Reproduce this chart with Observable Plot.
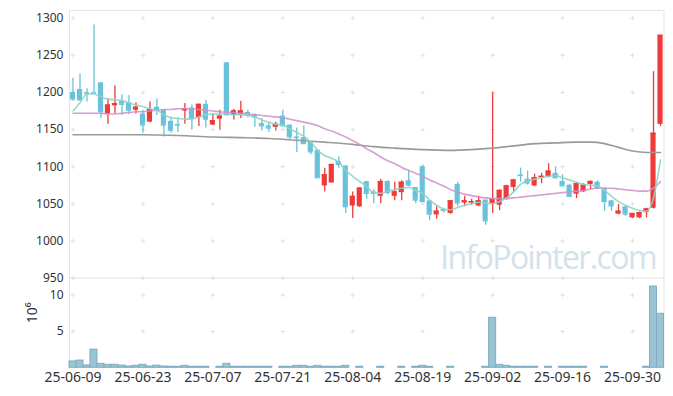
<!DOCTYPE html>
<html><head><meta charset="utf-8">
<script src="https://cdn.jsdelivr.net/npm/d3@7"></script>
<script src="https://cdn.jsdelivr.net/npm/@observablehq/plot@0.6"></script>
<style>
body{margin:0;background:#fff;}
#chart{position:relative;width:673px;height:396px;}
#chart svg{position:absolute;left:0;overflow:visible;}
</style></head><body><div id="chart"></div>
<script>
const dates = ["25-06-09","25-06-10","25-06-11","25-06-12","25-06-13","25-06-16","25-06-17","25-06-18","25-06-19","25-06-20",
"25-06-23","25-06-24","25-06-25","25-06-26","25-06-27","25-06-30","25-07-01","25-07-02","25-07-03","25-07-04",
"25-07-07","25-07-08","25-07-09","25-07-10","25-07-11","25-07-14","25-07-15","25-07-16","25-07-17","25-07-18",
"25-07-21","25-07-22","25-07-23","25-07-24","25-07-25","25-07-28","25-07-29","25-07-30","25-07-31","25-08-01",
"25-08-04","25-08-05","25-08-06","25-08-07","25-08-08","25-08-11","25-08-12","25-08-13","25-08-14","25-08-18",
"25-08-19","25-08-20","25-08-21","25-08-22","25-08-25","25-08-26","25-08-27","25-08-28","25-08-29","25-09-01",
"25-09-02","25-09-03","25-09-04","25-09-05","25-09-08","25-09-09","25-09-10","25-09-11","25-09-12","25-09-15",
"25-09-16","25-09-17","25-09-18","25-09-19","25-09-22","25-09-23","25-09-24","25-09-25","25-09-26","25-09-29",
"25-09-30","25-10-01","25-10-02","25-10-10","25-10-13"];

const open  = [1200,1204,1200,1200,1213,1171,1182,1188,1186,1176,1171,1160,1180,1176,1161,1157,1175,1179,1166,1184,
1156,1164,1240,1169,1170,1173,1170,1158,1155,1153,1168,1156,1140,1139,1133,1122,1074,1078,1107,1101,
1047,1046,1080,1066,1060,1080,1060,1065,1081,1072,1100,1054,1035,1042,1037,1076,1051,1051,1047,1055,
1050,1048,1056,1072,1089,1083,1074,1085,1086,1091,1080,1075,1063,1066,1076,1079,1071,1054,1036,1046,
1031,1031,1038,1044,1157];
const high  = [1219,1225,1205,1291,1213,1192,1209,1197,1196,1186,1176,1187,1191,1177,1167,1166,1185,1183,1184,1189,
1171,1176,1240,1177,1188,1176,1171,1165,1159,1160,1176,1156,1152,1155,1134,1122,1098,1103,1113,1101,
1066,1072,1080,1069,1083,1081,1079,1081,1095,1072,1102,1054,1046,1044,1054,1079,1060,1056,1060,1055,
1200,1069,1075,1083,1098,1094,1090,1091,1104,1100,1089,1076,1078,1077,1081,1081,1071,1054,1049,1046,
1037,1039,1044,1228,1277];
const low   = [1188,1188,1187,1199,1165,1157,1171,1169,1170,1171,1145,1159,1169,1140,1145,1146,1157,1149,1154,1152,
1155,1149,1168,1163,1165,1166,1153,1148,1146,1148,1155,1136,1119,1130,1116,1084,1066,1078,1098,1037,
1030,1045,1056,1050,1050,1062,1054,1054,1073,1050,1052,1027,1029,1038,1036,1046,1046,1048,1046,1021,
1037,1041,1055,1066,1079,1075,1073,1077,1085,1084,1074,1059,1057,1065,1069,1069,1040,1040,1035,1033,
1030,1030,1031,1043,1154];
const close = [1191,1190,1199,1199,1174,1183,1185,1184,1176,1180,1156,1177,1177,1156,1149,1156,1178,1165,1184,1164,
1162,1168,1170,1175,1175,1171,1167,1155,1152,1157,1155,1140,1139,1131,1120,1085,1089,1103,1103,1046,
1060,1071,1064,1064,1080,1065,1066,1079,1075,1055,1053,1036,1040,1041,1054,1051,1054,1053,1054,1027,
1056,1068,1074,1082,1088,1078,1085,1087,1094,1085,1074,1060,1077,1075,1080,1072,1053,1047,1040,1036,
1037,1038,1043,1145,1277];
// volume, millions of shares
const volume = [0.87,1.0,0.32,2.5,0.55,0.41,0.41,0.3,0.18,0.27,0.41,0.18,0.3,0.18,0.14,0.14,0.27,0.14,0.14,0.14,
0,0.14,0.55,0.14,0.14,0.14,0.14,0.14,0.14,0,0.14,0.14,0.27,0.27,0.14,0.27,0.14,0.14,0.14,0.27,
0,0.14,0,0,0.14,0,0,0.14,0,0.14,0.27,0.14,0,0,0.14,0,0,0,0,0.14,
6.89,0.41,0.27,0.14,0.14,0.14,0.14,0,0.14,0,0.14,0.14,0.14,0.14,0,0,0.14,0,0,0,
0,0,0.14,11.2,7.44];
// 5-day moving average (green)
const ma5 = [1175,1186,1198,1198,1194,1191,1190,1189,1186,1183,1181,1178,1176,1170,1166,1165,1164,1164,1167,1170,
1171,1171,1171,1170,1170,1169,1167,1163,1160,1157,1156,1151,1146,1141,1133,1122,1115,1111,1106,1095,
1087,1080,1073,1065,1064,1067,1069,1071,1072,1068,1064,1055,1048,1043,1042,1045,1048,1050,1052,1051,
1050,1053,1058,1066,1076,1081,1083,1085,1087,1088,1085,1082,1079,1076,1075,1074,1068,1060,1053,1048,
1044,1041,1040,1058,1109];
// 20-day moving average (pink)
const ma20 = [1172,1172,1172,1172,1172,1171,1171,1172,1173,1174,1174,1175,1176,1177,1177,1178,1178,1178,1177,1176,
1175,1174,1173,1173,1172,1171,1170,1169,1168,1167,1166,1164,1162,1160,1158,1155,1151,1148,1144,1140,
1135,1130,1124,1119,1113,1108,1104,1099,1095,1091,1087,1082,1078,1074,1069,1066,1063,1061,1059,1058,
1057,1057,1057,1058,1059,1060,1061,1062,1063,1064,1065,1066,1067,1068,1070,1071,1071,1071,1070,1069,
1068,1067,1067,1071,1080];
// long moving average (gray), read at these indices
const maLongIdx = [0,5,10,15,20,25,28,30,33,36,40,43,46,50,54,57,60,63,66,69,72,74,76,78,80,82,84];
const maLongVal = [1143,1143,1143,1142,1140,1139,1138,1137,1135,1133,1130,1127,1125,1123,1122,1123,1125,1128,1131,1132,1133,1133,1131,1126,1121,1119,1119];

const priceTicks = [950,1000,1050,1100,1150,1200,1250,1300];
const volTicks = [5,10];
const dateTickIdx = [0,10,20,30,40,50,60,70,80];

const UP = "#ef3a3a", DOWN = "#68c2da";
const n = dates.length;
const candles = d3.range(n).map(i => ({i, o: open[i], h: high[i], l: low[i], c: close[i], col: close[i] > open[i] ? UP : DOWN}));
const W = 673, L = 69, R = 9.5;
const xDomain = [-0.5, n - 0.5];
const font = {fontFamily: "'Noto Sans', sans-serif", fontSize: "12px", color: "#333", background: "transparent", overflow: "visible"};

const crossMain = dateTickIdx.flatMap(x => priceTicks.map(y => ({x, y})));
const crossVol = dateTickIdx.flatMap(x => volTicks.map(y => ({x, y})));

const main = Plot.plot({
  width: W, height: 278, marginLeft: L, marginRight: R, marginTop: 10, marginBottom: 0.5,
  style: font,
  x: {domain: xDomain, axis: null},
  y: {domain: [950, 1310.4], axis: null},
  marks: [
    Plot.frame({stroke: "#e4e4e4"}),
    Plot.dot(crossMain, {x: "x", y: "y", symbol: "plus", r: 1.5, stroke: "#e0e0e0", strokeWidth: 1}),
    Plot.text(["InfoPointer.com"], {frameAnchor: "bottom-right", dx: -8, dy: -9, fontSize: 32, fill: "#d3e2ea", fontFamily: "'Open Sans', sans-serif", className: "wm"}),
    Plot.ruleX(candles, {x: "i", y1: "l", y2: "h", stroke: "col", strokeWidth: 1.3}),
    Plot.rect(candles, {x1: d => d.i - 0.37, x2: d => d.i + 0.37, y1: "o", y2: "c", fill: "col"}),
    Plot.ruleY(candles, {x1: d => d.i - 0.37, x2: d => d.i + 0.37, y: "c", stroke: "col", strokeWidth: 1.2}),
    Plot.line(maLongIdx, {x: (d, k) => d, y: (d, k) => maLongVal[k], stroke: "#9a9a9a", strokeWidth: 1.6, curve: "monotone-x"}),
    Plot.line(d3.range(n), {x: d => d, y: d => ma20[d], stroke: "#cc8fcc", strokeWidth: 1.6, strokeOpacity: 0.85, curve: "monotone-x"}),
    Plot.line(d3.range(n), {x: d => d, y: d => ma5[d], stroke: "#90d3c6", strokeWidth: 1.6, strokeOpacity: 0.9, curve: "monotone-x"}),
    Plot.axisY({ticks: priceTicks, tickFormat: d => String(d), tickSize: 0, tickPadding: 6, fontSize: 12, label: null})
  ]
});
main.style.top = "0px";
d3.select(main).selectAll("g.wm text").style("letter-spacing", "-1.6px");

const vol = Plot.plot({
  width: W, height: 118, marginLeft: L, marginRight: R, marginTop: 0, marginBottom: 28.7,
  style: font,
  x: {domain: xDomain, axis: null},
  y: {domain: [0, 12.3], axis: null},
  marks: [
    Plot.frame({anchor: "left", stroke: "#e4e4e4"}),
    Plot.frame({anchor: "right", stroke: "#e4e4e4"}),
    Plot.dot(crossVol, {x: "x", y: "y", symbol: "plus", r: 1.5, stroke: "#e0e0e0", strokeWidth: 1}),
    Plot.rect(d3.range(n).filter(i => volume[i] > 0), {x1: i => i - 0.5, x2: i => i + 0.5, y1: 0, y2: i => volume[i], fill: "#9ac3d4", stroke: "#7fadc2", strokeWidth: 1}),
    Plot.axisY({ticks: volTicks, tickFormat: d => String(d), tickSize: 0, tickPadding: 6, fontSize: 12, label: null}),
    Plot.axisX({ticks: dateTickIdx, tickFormat: i => dates[i], tickSize: 0, tickPadding: 4, fontSize: 14, label: null}),
    Plot.text(["10⁶"], {frameAnchor: "left", dx: -37, rotate: -90, fontSize: 14, fill: "#333"})
  ]
});
vol.style.top = "278px";

const el = document.getElementById("chart");
el.append(main, vol);
</script></body></html>
